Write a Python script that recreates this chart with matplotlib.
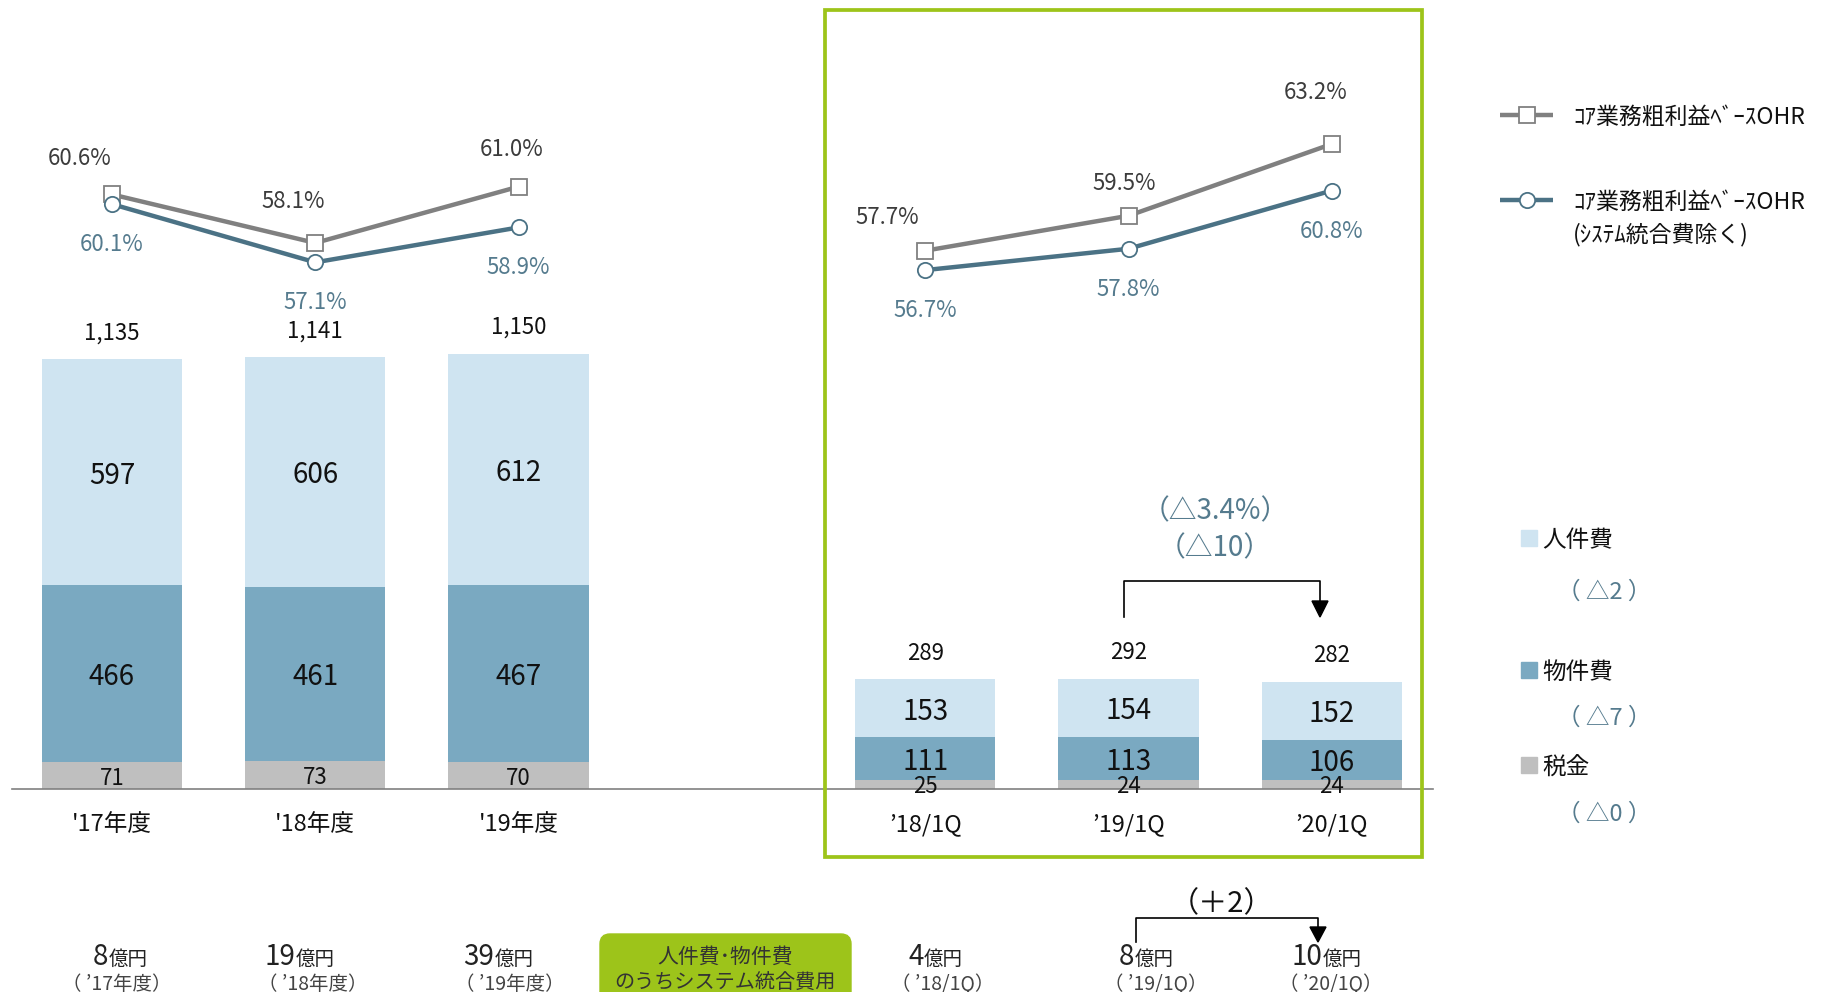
import matplotlib.pyplot as plt
from matplotlib.patches import FancyBboxPatch, Rectangle, Polygon

plt.rcParams['font.family'] = ['Noto Sans CJK JP', 'DejaVu Sans']

# data
categories = ["'17年度", "'18年度", "'19年度", "’18/1Q", "’19/1Q", "’20/1Q"]
personnel = [597, 606, 612, 153, 154, 152]
property_cost = [466, 461, 467, 111, 113, 106]
tax = [71, 73, 70, 25, 24, 24]
totals = [1135, 1141, 1150, 289, 292, 282]
ohr = [60.6, 58.1, 61.0, 57.7, 59.5, 63.2]
ohr_ex = [60.1, 57.1, 58.9, 56.7, 57.8, 60.8]
integ_cost = [8, 19, 39, 4, 8, 10]
integ_period = ["（ ’17年度）", "（ ’18年度）", "（ ’19年度）",
                "（ ’18/1Q）", "（ ’19/1Q）", "（ ’20/1Q）"]
legend_bars = ["人件費", "物件費", "税金"]
legend_diff = ["（ △2 ）", "（ △7 ）", "（ △0 ）"]

W, H = 1834, 992
fig = plt.figure(figsize=(W / 100, H / 100), dpi=100)

# main axes spans the whole figure; scales chosen to match the layout
ax = fig.add_axes([0, 0, 1, 1])
unit, x0, base, ppu = 203.3, 112, 789, 0.379
ax.set_xlim(-x0 / unit, (W - x0) / unit)
ax.set_ylim(-(H - base) / ppu, base / ppu)
ax.axis('off')

ax2 = ax.twinx()
ax2.set_ylim(63.2 - (H - 144) / 19.4, 63.2 + 144 / 19.4)
ax2.axis('off')

ov = fig.add_axes([0, 0, 1, 1])
ov.set_xlim(0, W)
ov.set_ylim(H, 0)
ov.axis('off')
ov.patch.set_alpha(0)

xs = [0, 1, 2, 4, 5, 6]
c_pers, c_prop, c_tax = '#cfe4f1', '#7aa9c1', '#bfbfbf'
c_grey_line, c_blue_line = '#808080', '#4b7285'
c_blue_txt = '#557b8e'
green = '#9dc41a'
vc = 'center_baseline'

bw = 0.69
bot2 = [t + p for t, p in zip(tax, property_cost)]
ax.bar(xs, tax, width=bw, color=c_tax)
ax.bar(xs, property_cost, bottom=tax, width=bw, color=c_prop)
ax.bar(xs, personnel, bottom=bot2, width=bw, color=c_pers)

for i, x in enumerate(xs):
    ax.text(x, tax[i] / 2, str(tax[i]), ha='center', va=vc, fontsize=16, color='#111')
    ax.text(x, tax[i] + property_cost[i] / 2, str(property_cost[i]),
            ha='center', va=vc, fontsize=20, color='#111')
    ax.text(x, bot2[i] + personnel[i] / 2, str(personnel[i]),
            ha='center', va=vc, fontsize=20, color='#111')
    top = bot2[i] + personnel[i]
    ax.text(x, top + 76, f"{totals[i]:,}", ha='center', va=vc, fontsize=16, color='#111')
    ax.text(x, -(33 / ppu), categories[i], ha='center', va=vc, fontsize=17, color='#111')

ax.axhline(0, xmin=12 / W, xmax=1433 / W, color='#808080', lw=1.2)

# OHR lines
for grp in ([0, 1, 2], [3, 4, 5]):
    gx = [xs[i] for i in grp]
    ax2.plot(gx, [ohr[i] for i in grp], color=c_grey_line, lw=3.2, marker='s',
             ms=11, mfc='white', mec=c_grey_line, mew=1.3, zorder=3)
    ax2.plot(gx, [ohr_ex[i] for i in grp], color=c_blue_line, lw=3.2, marker='o',
             ms=11, mfc='white', mec=c_blue_line, mew=1.3, zorder=3)

sq_off = [(-32, 38), (-22, 44), (-7, 40), (-38, 36), (-4, 35), (-16, 54)]
for i, x in enumerate(xs):
    ax2.annotate(f"{ohr[i]:.1f}%", (x, ohr[i]), xytext=sq_off[i], textcoords='offset pixels',
                 ha='center', va=vc, fontsize=16, color='#3c3c3c')
    ax2.annotate(f"{ohr_ex[i]:.1f}%", (x, ohr_ex[i]), xytext=(0, -38), textcoords='offset pixels',
                 ha='center', va=vc, fontsize=16, color=c_blue_txt)

# green frame around quarterly block
ov.add_patch(Rectangle((825, 10), 597, 847, fill=False, ec=green, lw=2.7))

# change annotation above quarterly bars
ov.text(1215, 508, "（△3.4%）", ha='center', va=vc, fontsize=20, color=c_blue_txt)
ov.text(1215, 545, "（△10）", ha='center', va=vc, fontsize=20, color=c_blue_txt)
ov.plot([1124, 1124, 1320, 1320], [617, 581, 581, 602], color='black', lw=1.2)
ov.add_patch(Polygon([(1312, 601), (1328, 601), (1320, 617)], closed=True, color='black'))

# line legend
ov.plot([1500, 1553], [115, 115], color=c_grey_line, lw=3.2, solid_capstyle='butt')
ov.plot([1527], [115], marker='s', ms=11, mfc='white', mec=c_grey_line, mew=1.3)
ov.plot([1500, 1553], [200, 200], color=c_blue_line, lw=3.2, solid_capstyle='butt')
ov.plot([1527], [200], marker='o', ms=11, mfc='white', mec=c_blue_line, mew=1.3)
ov.text(1573, 115, "ｺｱ業務粗利益ﾍﾞｰｽOHR", va=vc, fontsize=16.5, color='#111')
ov.text(1573, 200, "ｺｱ業務粗利益ﾍﾞｰｽOHR", va=vc, fontsize=16.5, color='#111')
ov.text(1573, 232, "(ｼｽﾃﾑ統合費除く)", va=vc, fontsize=16.5, color='#111')

# bar legend
leg_y = [538, 670, 765]
diff_y = [590, 716, 812]
for name, col, y, d, dy in zip(legend_bars, [c_pers, c_prop, c_tax], leg_y, legend_diff, diff_y):
    ov.add_patch(Rectangle((1521, y - 8), 16, 16, color=col))
    ov.text(1542, y, name, va=vc, fontsize=17, color='#111')
    ov.text(1604, dy, d, ha='center', va=vc, fontsize=17, color=c_blue_txt)

# system integration cost row
num_cx = [121, 301, 500, 936, 1147, 1328]
per_cx = [117, 313, 510, 943, 1156, 1331]
for i in range(len(integ_cost)):
    s = str(integ_cost[i])
    split = num_cx[i] + (14 * len(s) - 39) / 2
    ov.text(split, 965, s, ha='right', va='baseline', fontsize=20, color='#222')
    ov.text(split, 965, "億円", ha='left', va='baseline', fontsize=14, color='#222')
    ov.text(per_cx[i], 982, integ_period[i], ha='center', va=vc, fontsize=14, color='#444')

ov.add_patch(FancyBboxPatch((600, 934), 251, 80, boxstyle="round,pad=0,rounding_size=10",
                            color=green))
ov.text(725, 954, "人件費･物件費", ha='center', va=vc, fontsize=15, color='#333')
ov.text(725, 980, "のうちシステム統合費用", ha='center', va=vc, fontsize=14.5, color='#333')

ov.text(1222, 901, "（＋2）", ha='center', va=vc, fontsize=21, color='#111')
ov.plot([1136, 1136, 1318, 1318], [942, 918, 918, 928], color='black', lw=1.2)
ov.add_patch(Polygon([(1310, 927), (1326, 927), (1318, 942)], closed=True, color='black'))

fig.savefig('out.png', dpi=100)
